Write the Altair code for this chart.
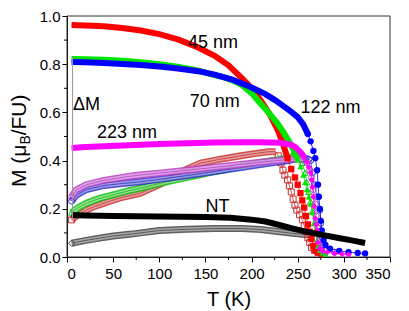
import altair as alt
import pandas as pd

# ---------------- data ----------------
# filled symbols (upper branch)
t45f = [5,20,40,60,80,100,120,140,160,175,190,200,210,220,228,234,239,243,247,250,253,255,257,259,261,263,265,267,269,272,276]
m45f = [.963,.961,.957,.950,.940,.925,.903,.873,.835,.795,.740,.700,.650,.590,.530,.470,.410,.365,.330,.300,.265,.235,.205,.170,.135,.105,.075,.045,.028,.018,.012]

t70f = [5,20,40,60,80,100,120,140,155,170,180,190,200,210,220,228,235,242,246,250,253,256,258,260,262,264,266,268,269,271,272,274,277,280]
m70f = [.822,.821,.818,.814,.808,.800,.790,.775,.760,.745,.732,.712,.680,.636,.592,.555,.515,.470,.440,.405,.375,.340,.310,.280,.250,.220,.185,.140,.110,.070,.045,.028,.018,.012]

t122f = [5,20,40,60,80,100,120,144,160,180,200,215,225,235,242,250,256,261,264,267,269,271,272,273,274,275,276,278,280,285,295,305,315,323]
m122f = [.809,.808,.805,.801,.797,.790,.782,.770,.757,.735,.703,.676,.652,.625,.605,.580,.550,.510,.480,.440,.410,.360,.300,.250,.200,.150,.110,.070,.050,.035,.025,.020,.017,.015]

t223f = [5,20,40,60,80,100,130,160,190,210,230,242,248,253,257,260,262,264,265,266,267,268,269,270,271,272,274,277,282,290,298,305]
m223f = [.452,.456,.460,.463,.466,.469,.472,.475,.476,.476,.474,.467,.455,.435,.415,.393,.372,.350,.320,.290,.250,.210,.160,.135,.110,.060,.035,.025,.020,.015,.012,.010]

tNTf = [5,20,50,100,150,177,200,215,228,245,260,275,293,310,323]
mNTf = [.174,.172,.170,.168,.166,.163,.155,.147,.135,.118,.104,.093,.080,.068,.058]

# open symbols (lower branch)
t45o = [5,10,15,21,30,45,60,79,100,115,130,145,165,185,205,218,226,229,232,234,236,239,241,243,245,247,249,252,255,257,259,261,263,265,268,272]
m45o = [.154,.170,.180,.195,.210,.230,.248,.264,.300,.330,.365,.390,.405,.418,.430,.437,.437,.420,.390,.360,.340,.320,.295,.270,.240,.215,.195,.175,.155,.130,.105,.080,.060,.040,.028,.020]

t70o = [5,12,21,35,50,68,85,100,120,140,152,170,190,210,230,242,248,252,255,258,260,262,264,266,268,270,272,274,278]
m70o = [.184,.205,.223,.243,.258,.276,.290,.305,.322,.338,.348,.362,.378,.392,.405,.415,.415,.405,.390,.350,.310,.270,.230,.190,.140,.100,.060,.035,.020]

t122o = [5,10,21,40,60,79,100,130,160,190,220,240,252,258,262,264,266,268,271,274,275,276,278,282,290]
m122o = [.232,.257,.280,.297,.305,.312,.322,.338,.355,.372,.390,.400,.410,.410,.405,.400,.350,.300,.250,.195,.140,.083,.050,.030,.020]

t223o = [5,10,21,40,68,79,100,130,160,190,220,240,250,256,260,263,265,267,269,270,272,274,276,280]
m223o = [.248,.278,.300,.318,.335,.340,.348,.360,.372,.385,.397,.405,.410,.405,.390,.360,.330,.280,.220,.170,.120,.070,.040,.025]

tNTo = [5,15,30,50,70,80,100,130,160,190,210,228,245,260,267]
mNTo = [.057,.065,.075,.087,.095,.100,.110,.115,.118,.118,.114,.106,.098,.092,.095]

# Delta-M marker line
dmT = [6, 6]
dmM = [0.155, 0.83]

# annotations
ann_text = ["45 nm", "70 nm", "122 nm", "223 nm", "\u0394M", "NT"]
ann_T = [131, 133, 253, 32.5, 6.5, 150]
ann_M = [0.867, 0.622, 0.598, 0.494, 0.61, 0.187]

x_ticks = [0, 50, 100, 150, 200, 250, 300, 350]
y_ticks = [0.0, 0.2, 0.4, 0.6, 0.8, 1.0]
x_minor = [25, 75, 125, 175, 225, 275, 325]
y_minor = [0.1, 0.3, 0.5, 0.7, 0.9]

# ---------------- styles ----------------
FONT = "Liberation Sans"
W, H = 323, 241
open_series = [
    (tNTo, mNTo, "#444444", "diamond", 330),
    (t45o, m45o, "#C83030", "square", 228),
    (t70o, m70o, "#10C010", "triangle-up", 252),
    (t122o, m122o, "#3030C8", "circle", 262),
    (t223o, m223o, "#B840C8", "circle", 258),
]
filled_series = [
    (t45f, m45f, "#FF0000", "square", 240),
    (t70f, m70f, "#00E600", "triangle-up", 250),
    (t122f, m122f, "#0000FF", "circle", 262),
    (t223f, m223f, "#FF00FF", "diamond", 258),
    (tNTf, mNTf, "#000000", "diamond", 330),
]

x_enc = alt.X("T:Q", scale=alt.Scale(domain=[0, 350], nice=False, zero=False),
              axis=alt.Axis(values=x_ticks, title="T (K)", grid=False, tickSize=5,
                            labelPadding=4, titlePadding=8, format="d"))
y_enc = alt.Y("M:Q", scale=alt.Scale(domain=[0, 1], nice=False),
              axis=alt.Axis(values=y_ticks, title=None, grid=False, tickSize=5,
                            labelPadding=2, format=".1f"))

layers = []

def df(t, m):
    return pd.DataFrame({"T": t, "M": m})

# plot frame
layers.append(alt.Chart(pd.DataFrame({"a": [0]})).mark_rect(
    fillOpacity=0, stroke="#333333", strokeWidth=1)
    .encode(x=alt.value(0), x2=alt.value(W), y=alt.value(0), y2=alt.value(H)))

for t, m, c, shp, cut in open_series:
    base = alt.Chart(df(t, m))
    layers.append(base.transform_filter(alt.datum.T <= cut)
                  .mark_line(color=c, strokeWidth=7, opacity=0.85).encode(x=x_enc, y=y_enc))
    layers.append(base.transform_filter(alt.datum.T <= cut)
                  .mark_line(color="white", strokeWidth=4, opacity=0.45).encode(x=x_enc, y=y_enc))
    layers.append(base.mark_line(color=c, strokeWidth=0.8).encode(x=x_enc, y=y_enc))
    layers.append(base.transform_filter((alt.datum.T >= cut) | (alt.datum.T <= 5))
                  .mark_point(shape=shp, filled=False, size=36, strokeWidth=1, color=c, opacity=1)
                  .encode(x=x_enc, y=y_enc))

for t, m, c, shp, cut in filled_series:
    base = alt.Chart(df(t, m))
    layers.append(base.transform_filter(alt.datum.T <= cut)
                  .mark_line(color=c, strokeWidth=6).encode(x=x_enc, y=y_enc))
    layers.append(base.mark_line(color=c, strokeWidth=0.8).encode(x=x_enc, y=y_enc))
    layers.append(base.transform_filter(alt.datum.T >= cut - 4)
                  .mark_point(shape=shp, filled=True, size=40, color=c, opacity=1)
                  .encode(x=x_enc, y=y_enc))

# Delta M line
layers.append(alt.Chart(df(dmT, dmM)).mark_line(color="#999999", strokeWidth=1)
              .encode(x=x_enc, y=y_enc))

# minor ticks
layers.append(alt.Chart(pd.DataFrame({"T": x_minor})).mark_rule(color="black", strokeWidth=1)
              .encode(x=x_enc, y=alt.value(H), y2=alt.value(H + 3)))
layers.append(alt.Chart(pd.DataFrame({"M": y_minor})).mark_rule(color="black", strokeWidth=1)
              .encode(y=y_enc, x=alt.value(-3), x2=alt.value(0)))

# annotations
layers.append(alt.Chart(pd.DataFrame({"T": ann_T, "M": ann_M, "label": ann_text}))
              .mark_text(align="left", baseline="alphabetic", fontSize=18, font=FONT, color="black")
              .encode(x=x_enc, y=y_enc, text="label:N"))

# y-axis title with subscript B
xb = -41
layers.append(alt.Chart(pd.DataFrame({"s": ["M (\u03bc"]})).mark_text(
    align="left", baseline="alphabetic", angle=270, fontSize=21, font=FONT, color="black")
    .encode(text="s:N", x=alt.value(xb), y=alt.value(171)))
layers.append(alt.Chart(pd.DataFrame({"s": ["B"]})).mark_text(
    align="left", baseline="alphabetic", angle=270, fontSize=14, font=FONT, color="black")
    .encode(text="s:N", x=alt.value(xb + 4), y=alt.value(128.6)))
layers.append(alt.Chart(pd.DataFrame({"s": ["/FU)"]})).mark_text(
    align="left", baseline="alphabetic", angle=270, fontSize=21, font=FONT, color="black")
    .encode(text="s:N", x=alt.value(xb), y=alt.value(119.3)))

chart = alt.layer(*layers).properties(
    width=W, height=H,
    autosize=alt.AutoSizeParams(type="none"),
    padding={"left": 59, "top": 8, "right": 11, "bottom": 54},
    background="white",
).configure_view(stroke=None).configure_axis(
    labelFont=FONT, titleFont=FONT, labelFontSize=15, titleFontSize=20,
    labelColor="black", titleColor="black", domainColor="black", tickColor="black",
    titleFontWeight="normal", domainWidth=1, tickWidth=1,
)

chart.save("out.html", embed_options={"renderer": "svg", "actions": False})
